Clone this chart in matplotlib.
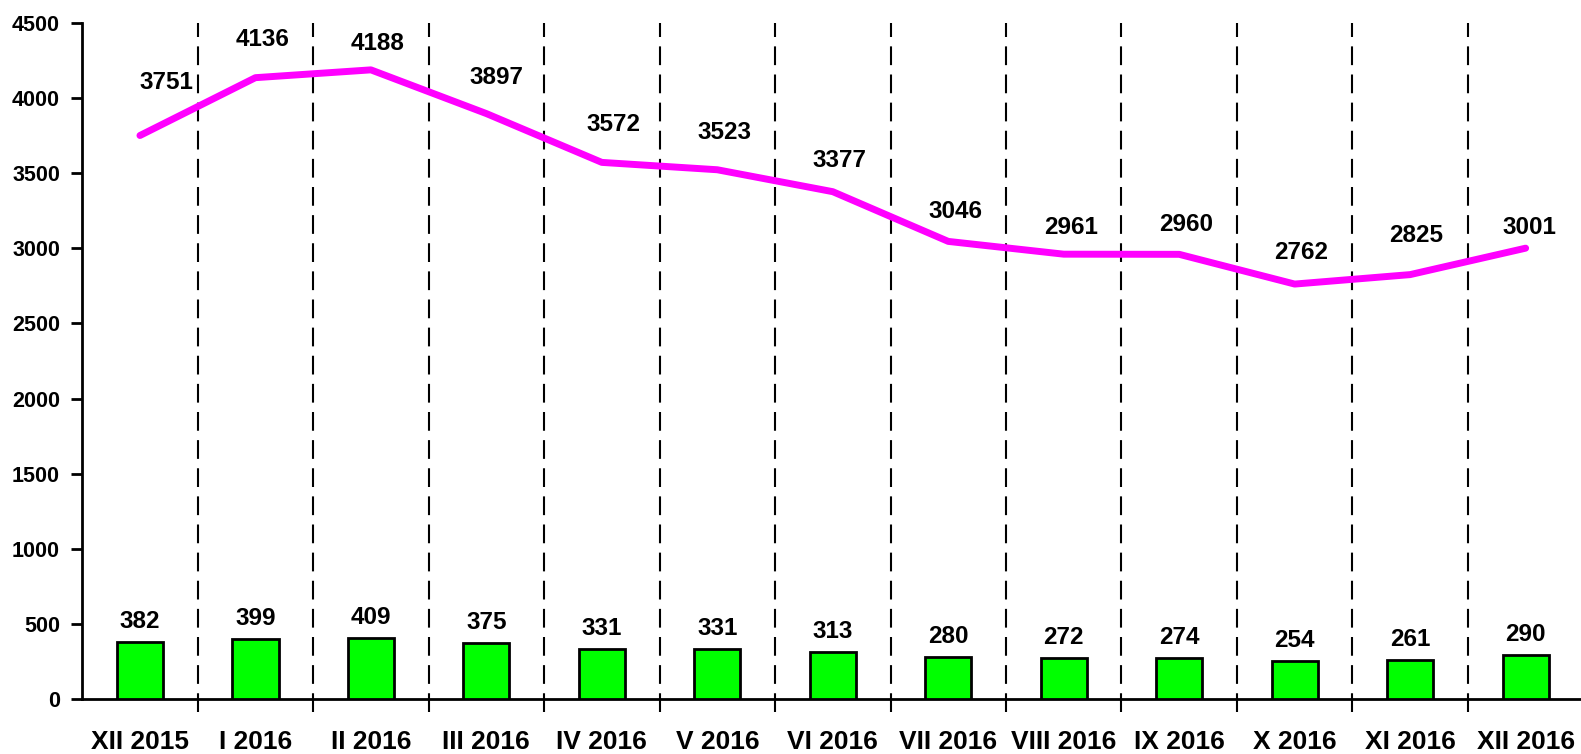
import matplotlib
matplotlib.use("Agg")
import matplotlib.pyplot as plt
import numpy as np

categories = ["XII 2015", "I 2016", "II 2016", "III 2016", "IV 2016", "V 2016", "VI 2016",
              "VII 2016", "VIII 2016", "IX 2016", "X 2016", "XI 2016", "XII 2016"]
line_values = [3751, 4136, 4188, 3897, 3572, 3523, 3377, 3046, 2961, 2960, 2762, 2825, 3001]
bar_values = [382, 399, 409, 375, 331, 331, 313, 280, 272, 274, 254, 261, 290]
yticks = [0, 500, 1000, 1500, 2000, 2500, 3000, 3500, 4000, 4500]

# label offsets in pixels (dx, dy) relative to line points
line_label_offsets = [(26, 42), (7, 27), (7, 15), (10, 25), (12, 26), (7, 26), (7, 20),
                      (7, 18), (7, 15), (7, 18), (6, 20), (6, 28), (4, 9)]

plt.rcParams['font.family'] = ['Liberation Sans', 'DejaVu Sans']
plt.rcParams['font.weight'] = 'bold'

fig = plt.figure(figsize=(15.81, 7.54), dpi=100)
ax = fig.add_axes([0.052, 0.073, 0.9495, 0.8965])

x = np.arange(len(categories))
ax.bar(x, bar_values, width=0.4, color="#00FF00", edgecolor="black", linewidth=2, zorder=3)
ax.plot(x, line_values, color="#FF00FF", linewidth=5, solid_capstyle="round", zorder=4)

for xi, v in zip(x, bar_values):
    ax.annotate(str(v), (xi, v), xytext=(0, 9), textcoords="offset pixels",
                ha="center", va="bottom", fontsize=17.5, fontweight="bold")
for xi, v, (dx, dy) in zip(x, line_values, line_label_offsets):
    ax.annotate(str(v), (xi, v), xytext=(dx, dy), textcoords="offset pixels",
                ha="center", va="bottom", fontsize=17.5, fontweight="bold")

for b in np.arange(0.5, len(categories) - 1, 1.0):
    ax.plot([b, b], [-85, 4500], color="black", linewidth=1.5,
            linestyle=(0, (9, 4.5)), clip_on=False, zorder=2)

ax.set_xlim(-0.5, len(categories) - 0.5)
ax.set_ylim(0, 4500)
ax.set_yticks(yticks)
ax.set_yticklabels([str(t) for t in yticks], fontsize=15.5, fontweight="bold")
ax.set_xticks(x)
ax.set_xticklabels(categories, fontsize=19, fontweight="bold")
ax.tick_params(axis="x", length=0, pad=22)
ax.tick_params(axis="y", length=8, width=2, direction="out", pad=8)
for s in ["top", "right"]:
    ax.spines[s].set_visible(False)
ax.spines["left"].set_linewidth(2)
ax.spines["bottom"].set_linewidth(2)
ax.spines["left"].set_bounds(0, 4500)

fig.savefig("out.png", dpi=100)
